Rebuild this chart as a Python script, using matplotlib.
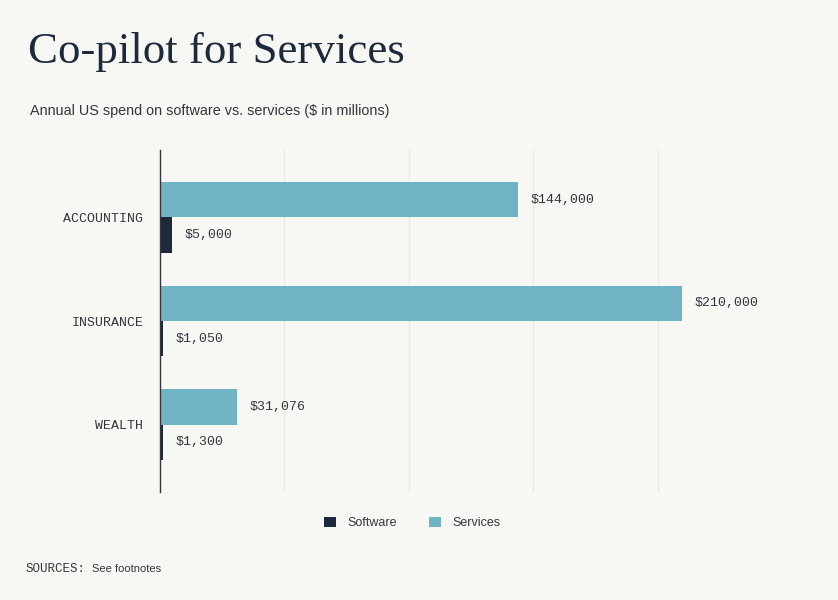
import numpy as np
import matplotlib.pyplot as plt

# Data
categories = ["ACCOUNTING", "INSURANCE", "WEALTH"]
software = [5000, 1050, 1300]
services = [144000, 210000, 31076]

# Colours
bg = "#f7f7f4"
navy = "#1c2a3c"
teal = "#6fb3c4"
grid_col = "#ebebe6"
txt = "#33373d"
mono = "Liberation Mono"
sans = "Liberation Sans"

fig = plt.figure(figsize=(8.38, 6.0), dpi=100, facecolor=bg)
ax = fig.add_axes([160 / 838, 1 - 492 / 600, (782 - 160) / 838, (492 - 150) / 600])
ax.set_facecolor(bg)

y = np.arange(len(categories))
h = 0.34
bars_srv = ax.barh(y - h / 2, services, height=h, color=teal, label="Services")
bars_sw = ax.barh(y + h / 2, software, height=h, color=navy, label="Software")

# value labels
for bars, vals in [(bars_srv, services), (bars_sw, software)]:
    for b, v in zip(bars, vals):
        ax.annotate(f"${v:,}", (b.get_width(), b.get_y() + b.get_height() / 2),
                    xytext=(9, 0), textcoords="offset points",
                    va="center", ha="left", fontsize=9.5, family=mono, color=txt)

ax.set_xlim(0, 250000)
ax.set_ylim(2.65, -0.65)
ax.set_xticks([50000, 100000, 150000, 200000, 250000])
ax.xaxis.grid(True, color=grid_col, linewidth=1)
ax.set_axisbelow(True)
ax.tick_params(axis="x", length=0, labelbottom=False)
ax.tick_params(axis="y", length=0, pad=12)
ax.set_yticks(y)
ax.set_yticklabels(categories, family=mono, fontsize=9.5, color=txt)
for s in ["top", "right", "bottom"]:
    ax.spines[s].set_visible(False)
ax.spines["left"].set_color(txt)
ax.spines["left"].set_linewidth(1)

# Titles
fig.text(28 / 838, 1 - 52 / 600, "Co-pilot for Services", family="Liberation Serif",
         fontsize=32.3, color=navy, va="center", ha="left")
fig.text(30 / 838, 1 - 111 / 600, "Annual US spend on software vs. services ($ in millions)",
         family=sans, fontsize=10.4, color=txt, va="center", ha="left")

# Legend
fig.legend(handles=[bars_sw, bars_srv], labels=["Software", "Services"],
           loc="center", bbox_to_anchor=(412 / 838, 1 - 523 / 600), ncol=2,
           frameon=False, handlelength=0.95, handleheight=0.95, columnspacing=2.6,
           handletextpad=0.9, prop={"family": sans, "size": 9}, labelcolor=txt)

# Sources
fig.text(26 / 838, 1 - 569 / 600, "SOURCES:", family=mono, fontsize=9,
         color=txt, va="center", ha="left")
fig.text(92 / 838, 1 - 569 / 600, "See footnotes", family=sans, fontsize=8,
         color=txt, va="center", ha="left")

fig.savefig("out.png", dpi=100, facecolor=bg)
